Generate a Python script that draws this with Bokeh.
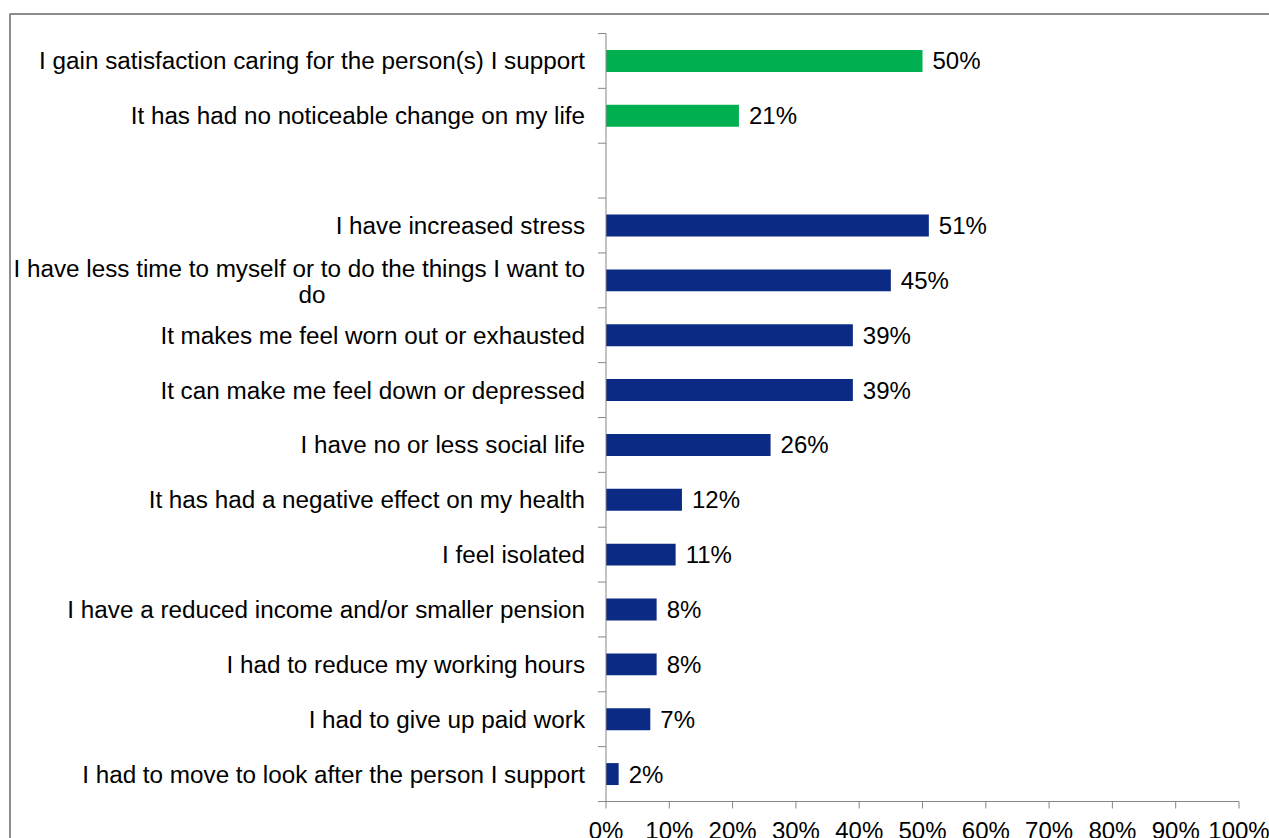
from bokeh.plotting import figure
from bokeh.models import Range1d, ColumnDataSource
from bokeh.core.properties import value
from bokeh.embed import file_html
from bokeh.resources import INLINE

# ---- data (top to bottom) ----
positive_labels = [
    "I gain satisfaction caring for the person(s) I support",
    "It has had no noticeable change on my life",
]
positive_values = [50, 21]

negative_labels = [
    "I have increased stress",
    "I have less time to myself or to do the things I want to do",
    "It makes me feel worn out or exhausted",
    "It can make me feel down or depressed",
    "I have no or less social life",
    "It has had a negative effect on my health",
    "I feel isolated",
    "I have a reduced income and/or smaller pension",
    "I had to reduce my working hours",
    "I had to give up paid work",
    "I had to move to look after the person I support",
]
negative_values = [51, 45, 39, 39, 26, 12, 11, 8, 8, 7, 2]

x_ticks = [0, 10, 20, 30, 40, 50, 60, 70, 80, 90, 100]
x_tick_labels = [f"{t}%" for t in x_ticks]

# ---- styling / layout ----
GREEN = "#00B050"
BLUE = "#0B2A84"
AXIS_GRAY = "#868686"
BOX_GRAY = "#8C8C8C"
FONT = "Liberation Sans"
FS = "24px"
CAT_FS = "24.25px"

W, H = 1269, 838
PX_PER_PCT = 6.33          # pixels per percentage point
AXIS_X0 = 605.5            # pixel x of 0%
SLOT_PX = 768 / 14         # pixel height of one category slot
AXIS_Y0 = 33               # pixel y of top of category axis

n_slots = len(positive_labels) + 1 + len(negative_labels)
pos_y = [i + 0.5 for i in range(len(positive_labels))]
neg_y = [len(positive_labels) + 1 + i + 0.5 for i in range(len(negative_labels))]

x_start = -AXIS_X0 / PX_PER_PCT
x_end = (W - AXIS_X0) / PX_PER_PCT
y_top = -AXIS_Y0 / SLOT_PX
y_bottom = (H - AXIS_Y0) / SLOT_PX

def dx(px):
    return px / PX_PER_PCT

def dy(px):
    return px / SLOT_PX

p = figure(width=W, height=H, output_backend="svg", toolbar_location=None,
           x_range=Range1d(x_start, x_end), y_range=Range1d(y_bottom, y_top),
           x_axis_location=None, y_axis_location=None, min_border=0)
p.outline_line_color = None
p.grid.grid_line_color = None
p.background_fill_color = "white"
p.border_fill_color = "white"

# chart-area border (left and top edges visible in the window)
bx = x_start + dx(9.5)
by = y_top + dy(13.5)
p.line(x=[bx, bx, x_end + 1], y=[y_bottom + 1, by, by], line_color=BOX_GRAY, line_width=2)

# bars
src_pos = ColumnDataSource(dict(y=pos_y, v=positive_values, txt=[f"{v}%" for v in positive_values]))
src_neg = ColumnDataSource(dict(y=neg_y, v=negative_values, txt=[f"{v}%" for v in negative_values]))
p.hbar(y="y", right="v", left=0, height=0.4, source=src_pos, color=GREEN, line_color=None)
p.hbar(y="y", right="v", left=0, height=0.4, source=src_neg, color=BLUE, line_color=None)

# value labels
for src in (src_pos, src_neg):
    p.text(x="v", y="y", text="txt", source=src, x_offset=10,
           text_align="left", text_baseline="middle",
           text_font=value(FONT), text_font_size=FS, text_color="black")

# category axis
tick_len = dx(8)
bounds = list(range(n_slots + 1))
p.segment(x0=[0], y0=[0], x1=[0], y1=[n_slots], line_color=AXIS_GRAY, line_width=1)
p.segment(x0=[-tick_len] * len(bounds), y0=bounds, x1=[0] * len(bounds), y1=bounds,
          line_color=AXIS_GRAY, line_width=1)

# category labels (one wraps onto two lines)
WRAP = "I have less time to myself or to do the things I want to do"
lab_txt, lab_y, lab_yoff = [], [], []
for labels, ys in ((positive_labels, pos_y), (negative_labels, neg_y)):
    for s, y in zip(labels, ys):
        if s == WRAP:
            lab_txt.append("I have less time to myself or to do the things I want to")
            lab_y.append(y)
            lab_yoff.append(-12)
        else:
            lab_txt.append(s)
            lab_y.append(y)
            lab_yoff.append(0)
p.text(x=0, y=lab_y, text=lab_txt, x_offset=-21, y_offset=lab_yoff,
       text_align="right", text_baseline="middle",
       text_font=value(FONT), text_font_size=CAT_FS, text_color="black")
wy = neg_y[negative_labels.index(WRAP)]
p.text(x=[0], y=[wy], text=["do"], x_offset=-294, y_offset=14,
       text_align="center", text_baseline="middle",
       text_font=value(FONT), text_font_size=CAT_FS, text_color="black")

# value axis
p.segment(x0=[-tick_len], y0=[n_slots], x1=[100], y1=[n_slots], line_color=AXIS_GRAY, line_width=1)
p.segment(x0=x_ticks, y0=[n_slots] * len(x_ticks), x1=x_ticks,
          y1=[n_slots + dy(7)] * len(x_ticks), line_color=AXIS_GRAY, line_width=1)
p.text(x=x_ticks, y=[n_slots] * len(x_ticks), text=x_tick_labels, y_offset=29,
       text_align="center", text_baseline="alphabetic",
       text_font=value(FONT), text_font_size=FS, text_color="black")

open("out.html", "w").write(file_html(p, INLINE))
